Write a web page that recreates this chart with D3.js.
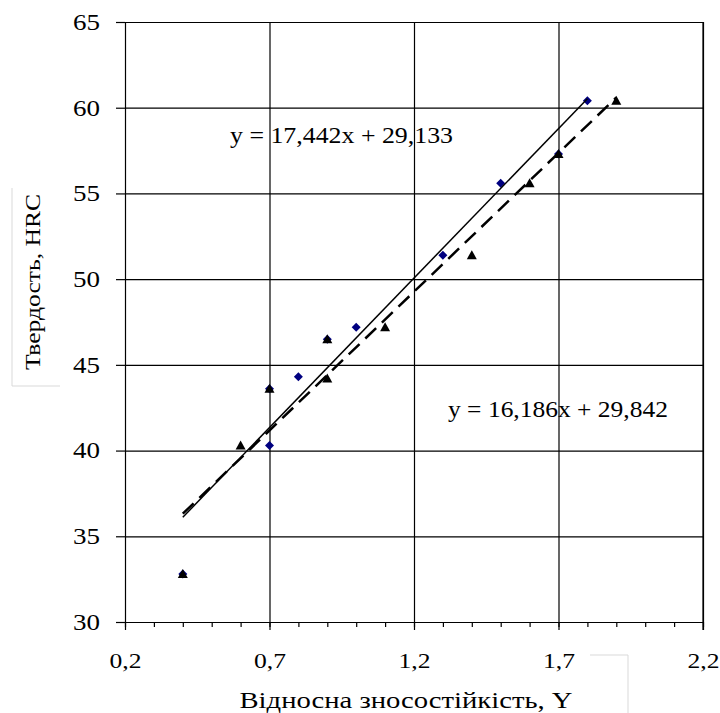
<!DOCTYPE html>
<html>
<head>
<meta charset="utf-8">
<script src="https://cdn.jsdelivr.net/npm/d3@7"></script>
<style>
  body { margin: 0; background: #fff; }
  text { font-family: "Liberation Serif", "Times New Roman", serif; fill: #000; }
</style>
</head>
<body>
<div id="chart"></div>
<script>
// Values
const diamondX = [0.4, 0.7, 0.7, 0.8, 0.9, 1.0, 1.3, 1.5, 1.7, 1.8];
const diamondY = [32.8, 40.3, 43.6, 44.3, 46.5, 47.2, 51.4, 55.6, 57.3, 60.4];
const triangleX = [0.4, 0.6, 0.7, 0.9, 0.9, 1.1, 1.4, 1.6, 1.7, 1.9];
const triangleY = [32.8, 40.3, 43.6, 44.2, 46.5, 47.2, 51.4, 55.6, 57.3, 60.4];
const trendSlopes = [17.442, 16.186];
const trendIntercepts = [29.133, 29.842];
const equationLabels = ["y = 17,442x + 29,133", "y = 16,186x + 29,842"];
const xTicks = [0.2, 0.7, 1.2, 1.7, 2.2];
const yTicks = [30, 35, 40, 45, 50, 55, 60, 65];
const xTitle = "Відносна зносостійкість, Y";
const yTitle = "Твердость, HRC";

// Plot box in pixels
const W = 720, H = 713;
const plotLeft = 125, plotRight = 703, plotTop = 22, plotBottom = 622;

const svg = d3.select("#chart").append("svg")
    .attr("width", W)
    .attr("height", H);

svg.append("rect").attr("width", W).attr("height", H).attr("fill", "#fff");

const x = d3.scaleLinear().domain([0.2, 2.2]).range([plotLeft, plotRight]);
const y = d3.scaleLinear().domain([30, 65]).range([plotBottom, plotTop]);

const fmt = d => d3.format(".1f")(d).replace(".", ",");

// Label frames (faint boxes left by the original)
svg.append("path")
    .attr("d", "M12,188 V386 H60")
    .attr("fill", "none").attr("stroke", "#d9d9d9").attr("stroke-width", 1);
svg.append("path")
    .attr("d", "M590,655 H628 V713")
    .attr("fill", "none").attr("stroke", "#d9d9d9").attr("stroke-width", 1);

// Grid lines
svg.append("g")
    .attr("transform", `translate(${plotLeft},0)`)
    .call(d3.axisLeft(y).tickValues(yTicks).tickSize(-(plotRight - plotLeft)).tickFormat(""))
    .call(g => g.select(".domain").remove());

svg.append("g")
    .attr("transform", `translate(0,${plotBottom})`)
    .call(d3.axisBottom(x).tickValues(xTicks.slice(1)).tickSize(-(plotBottom - plotTop)).tickFormat(""))
    .call(g => g.select(".domain").remove());

// Minor ticks on x every 0.1
svg.append("g")
    .attr("transform", `translate(0,${plotBottom})`)
    .call(d3.axisBottom(x).ticks(20).tickSize(5).tickFormat(""))
    .call(g => g.select(".domain").remove());

// Y axis
const yAxis = svg.append("g")
    .attr("transform", `translate(${plotLeft},0)`)
    .call(d3.axisLeft(y).tickValues(yTicks).tickSize(9).tickSizeOuter(0).tickPadding(16));
yAxis.selectAll("text")
    .style("font-size", "23px")
    .attr("textLength", 27)
    .attr("lengthAdjust", "spacingAndGlyphs");

// X axis
const xAxis = svg.append("g")
    .attr("transform", `translate(0,${plotBottom})`)
    .call(d3.axisBottom(x).tickValues(xTicks).tickSize(8).tickSizeOuter(0).tickPadding(22).tickFormat(fmt));
xAxis.selectAll("text")
    .style("font-size", "22px")
    .attr("textLength", 32)
    .attr("lengthAdjust", "spacingAndGlyphs");

svg.selectAll(".domain, .tick line").attr("stroke", "#000").attr("stroke-width", 1.2);

// Right frame edge
svg.append("line")
    .attr("x1", x(2.2)).attr("x2", x(2.2))
    .attr("y1", y(65)).attr("y2", plotBottom + 8)
    .attr("stroke", "#000").attr("stroke-width", 1.2);

// Markers: diamonds first, triangles over them
const diamonds = diamondX.map((d, i) => ({x: d, y: diamondY[i]}));
const triangles = triangleX.map((d, i) => ({x: d, y: triangleY[i]}));

svg.append("g").selectAll("path")
    .data(diamonds)
    .enter().append("path")
    .attr("d", "M0,-4.5 L4.5,0 L0,4.5 L-4.5,0 Z")
    .attr("transform", d => `translate(${x(d.x)},${y(d.y)})`)
    .attr("fill", "#000080");

svg.append("g").selectAll("path")
    .data(triangles)
    .enter().append("path")
    .attr("d", "M0,-5 L5,4 L-5,4 Z")
    .attr("transform", d => `translate(${x(d.x)},${y(d.y)})`)
    .attr("fill", "#000");

// Trend lines
const ranges = [d3.extent(diamondX), d3.extent(triangleX)];
const line = d3.line().x(d => x(d[0])).y(d => y(d[1]));

trendSlopes.forEach((k, i) => {
    const pts = ranges[i].map(v => [v, k * v + trendIntercepts[i]]);
    svg.append("path")
        .attr("d", line(pts))
        .attr("fill", "none")
        .attr("stroke", "#000")
        .attr("stroke-width", i === 0 ? 1.5 : 2.5)
        .attr("stroke-dasharray", i === 0 ? null : "15,8");
});

// Equation labels
svg.append("text")
    .attr("x", 230).attr("y", 143)
    .style("font-size", "23px")
    .attr("textLength", 223)
    .attr("lengthAdjust", "spacingAndGlyphs")
    .text(equationLabels[0]);

svg.append("text")
    .attr("x", 448).attr("y", 417)
    .style("font-size", "23px")
    .attr("textLength", 220)
    .attr("lengthAdjust", "spacingAndGlyphs")
    .text(equationLabels[1]);

// Axis titles
svg.append("text")
    .attr("x", 406).attr("y", 708)
    .attr("text-anchor", "middle")
    .style("font-size", "24px")
    .attr("textLength", 333)
    .attr("lengthAdjust", "spacingAndGlyphs")
    .text(xTitle);

svg.append("text")
    .attr("transform", "translate(40,282) rotate(-90)")
    .attr("text-anchor", "middle")
    .style("font-size", "20px")
    .attr("textLength", 176)
    .attr("lengthAdjust", "spacingAndGlyphs")
    .text(yTitle);
</script>
</body>
</html>
